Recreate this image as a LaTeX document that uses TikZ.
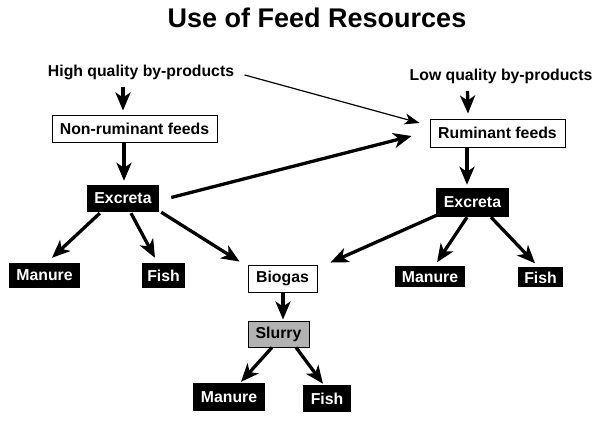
\documentclass[tikz,border=0pt]{standalone}
\usepackage{fontspec}
\setmainfont{Liberation Sans}
\usetikzlibrary{arrows.meta,calc}
\begin{document}
\begin{tikzpicture}[x=1pt,y=-1pt,
  lbl/.style={font=\bfseries\fontsize{15.8}{18}\selectfont},
  whitebox/.style={lbl,draw,line width=0.9pt,fill=white,inner sep=0pt},
  blackbox/.style={lbl,fill=black,text=white,inner sep=0pt},
  graybox/.style={lbl,draw,line width=0.9pt,fill=gray!60,inner sep=0pt},
  arr/.style={line width=3.3pt,-{Stealth[length=18pt,width=15pt,inset=5pt]}},
  thinarr/.style={line width=1.2pt,-{Stealth[length=15pt,width=11pt,inset=4pt]}}]
\useasboundingbox[fill=white] (0,0) rectangle (600,422);

\node[font=\bfseries\fontsize{27}{30}\selectfont,anchor=base] (title) at (317,28) {Use of Feed Resources};
\node[lbl,anchor=base] (hq) at (141,77) {High quality by-products};
\node[lbl,anchor=base] (lq) at (501,81) {Low quality by-products};

\node[whitebox,minimum width=165pt,minimum height=27pt] (nrf) at (134.5,128.5) {Non-ruminant feeds};
\node[whitebox,minimum width=135pt,minimum height=28pt] (rf) at (497.5,133) {Ruminant feeds};

\node[blackbox,minimum width=72pt,minimum height=27pt] (exl) at (123,198.5) {Excreta};
\node[blackbox,minimum width=73pt,minimum height=29pt] (exr) at (472.5,202.5) {Excreta};

\node[blackbox,minimum width=71pt,minimum height=25pt] (manl) at (44.5,275.5) {Manure};
\node[blackbox,minimum width=43pt,minimum height=25pt] (fishl) at (163.5,275.5) {Fish};
\node[whitebox,minimum width=69pt,minimum height=27pt] (bio) at (282.5,278.5) {Biogas};
\node[blackbox,minimum width=70pt,minimum height=21pt] (manr) at (430,277) {Manure};
\node[blackbox,minimum width=45pt,minimum height=20pt] (fishr) at (540.5,277.5) {Fish};

\node[graybox,minimum width=61pt,minimum height=26pt] (slu) at (278.5,334) {Slurry};
\node[blackbox,minimum width=72pt,minimum height=28pt] (manb) at (229,397) {Manure};
\node[blackbox,minimum width=48pt,minimum height=27pt] (fishb) at (327,398.5) {Fish};

% connectors
\draw[arr] ($(hq.south)+(-18,3)$) -- ($(nrf.north)+(-11.5,-4)$);
\draw[arr] ($(nrf.south)+(-10.5,0)$) -- ($(exl.north)+(1,-4)$);
\draw[thinarr] ($(hq.east)+(7,2)$) -- ($(rf.west)+(-10,-10)$);
\draw[arr] ($(exl.east)+(12,-1)$) -- ($(rf.west)+(-18,3)$);

\draw[arr] ($(exl.south west)+(13,1)$) -- ($(manl.north)+(7.5,-5)$);
\draw[arr] ($(exl.south)+(8,1)$) -- ($(fishl.north)+(-8.5,-5)$);
\draw[arr] ($(exl.south east)+(2,0)$) -- ($(bio.north west)+(-8,-3)$);

\draw[arr] ($(lq.south)+(-33.5,3)$) -- ($(rf.north)+(-29.5,-5)$);
\draw[arr] ($(rf.south)+(-30.5,0)$) -- ($(exr.north)+(-5.5,-3)$);

\draw[arr] ($(exr.south west)+(1,-2)$) -- ($(bio.north east)+(13,-2)$);
\draw[arr] ($(exr.south)+(-5.5,0)$) -- ($(manr.north)+(7,-4)$);
\draw[arr] ($(exr.south)+(18.5,0)$) -- ($(fishr.north)+(-5.5,-4)$);

\draw[arr] ($(bio.south)+(0.5,0)$) -- ($(slu.north)+(4.5,-1)$);
\draw[arr] ($(slu.south)+(-6.5,0)$) -- ($(manb.north)+(12,-1)$);
\draw[arr] ($(slu.south)+(17.5,0)$) -- ($(fishb.north)+(-4,-1)$);
\end{tikzpicture}
\end{document}
